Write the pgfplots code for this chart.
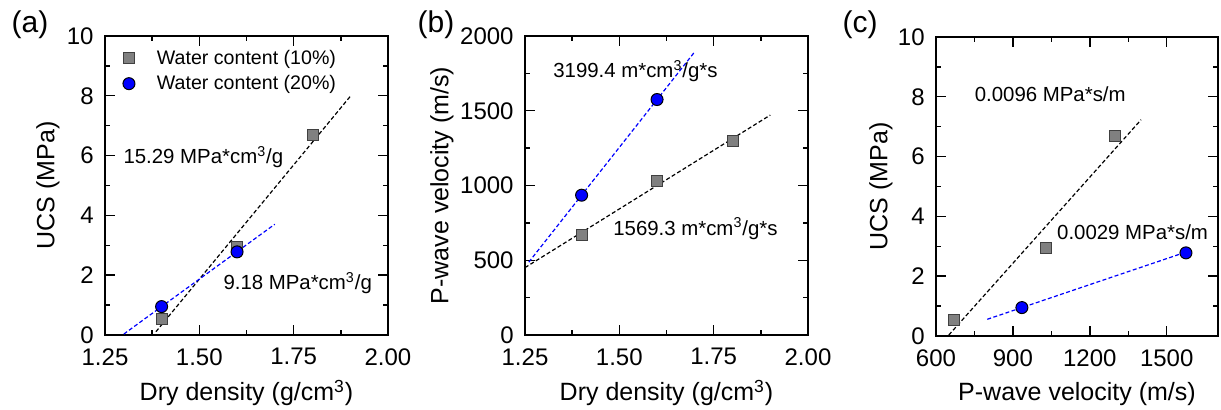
\documentclass[border=0pt]{standalone}
\usepackage{fontspec}
\setmainfont{Liberation Sans}
\usepackage{pgfplots}
\pgfplotsset{compat=1.18}
\definecolor{sqgray}{RGB}{128,128,128}
\definecolor{myblue}{RGB}{0,0,255}
\pgfplotsset{
  myaxis/.style={
    scale only axis, anchor=south west,
    width=141.5pt, height=149.5pt,
    /pgf/number format/assume math mode=true,
    tick align=inside, major tick length=5pt, minor tick length=2.5pt,
    every tick/.style={black, line width=0.7pt},
    axis line style={line width=1pt},
    tick label style={font=\fontsize{12}{14}\selectfont, inner sep=0.5pt},
    xticklabel style={yshift=-6pt},
    yticklabel style={xshift=-5pt},
    label style={font=\fontsize{12.5}{15}\selectfont},
    xlabel style={at={(axis description cs:0.5,-0.194)}, anchor=center},
    clip=false,
  },
  sq/.style={only marks, mark=square*, mark size=2.75pt, mark options={fill=sqgray, draw=black!75, line width=0.5pt}},
  ci/.style={only marks, mark=*, mark size=3pt, mark options={fill=myblue, draw=black, line width=0.5pt}},
  bfit/.style={black, dash pattern=on 2pt off 1.2pt, line width=0.6pt, forget plot},
  ufit/.style={myblue, dash pattern=on 2pt off 1.2pt, line width=0.6pt, forget plot},
}
\newcommand{\ann}{\fontsize{10.2}{12}\selectfont}
\begin{document}
\begin{tikzpicture}
\useasboundingbox (0,0) rectangle (610.5pt,205pt);
% ---------------- (a)
\begin{axis}[myaxis, at={(52.5pt,37.5pt)},
  xmin=1.25, xmax=2, ymin=0, ymax=10,
  xtick={1.25,1.5,1.75,2}, minor x tick num=1,
  ytick={0,2,4,6,8,10}, minor y tick num=1,
  xticklabel style={/pgf/number format/.cd, fixed, fixed zerofill, precision=2},
  xlabel={Dry density (g/cm\textsuperscript{3})},
  ylabel={UCS (MPa)},
  ylabel style={at={(axis description cs:-0.2014,0.5)}, anchor=center, rotate=0},
  legend style={draw=none, fill=none, at={(0.055,0.975)}, anchor=north west,
    font=\fontsize{9.8}{12}\selectfont, row sep=0pt, inner sep=1pt},
  legend cell align=left,
]
\addplot[bfit] coordinates {(1.385,0.11) (1.9,7.98)};
\addplot[ufit] coordinates {(1.3,0.032) (1.7,3.704)};
\addplot[sq] coordinates {(1.4,0.55) (1.6,2.95) (1.8,6.68)};
\addlegendentry{\hspace*{9pt}Water content (10\%)}
\addplot[ci] coordinates {(1.4,0.95) (1.6,2.78)};
\addlegendentry{\hspace*{9pt}Water content (20\%)}
\node[anchor=west, font=\ann, inner sep=0pt] at (axis cs:1.298,5.95) {15.29 MPa*cm\textsuperscript{3}/g};
\node[anchor=west, font=\ann, inner sep=0pt] at (axis cs:1.563,1.74) {9.18 MPa*cm\textsuperscript{3}/g};
\end{axis}
% ---------------- (b)
\begin{axis}[myaxis, at={(262.5pt,37.5pt)},
  xmin=1.25, xmax=2, ymin=0, ymax=2000,
  xtick={1.25,1.5,1.75,2}, minor x tick num=1,
  ytick={0,500,1000,1500,2000}, minor y tick num=1,
  xticklabel style={/pgf/number format/.cd, fixed, fixed zerofill, precision=2},
  yticklabel style={/pgf/number format/.cd, 1000 sep={}},
  scaled y ticks=false,
  xlabel={Dry density (g/cm\textsuperscript{3})},
  ylabel={P-wave velocity (m/s)},
  ylabel style={at={(axis description cs:-0.2933,0.5)}, anchor=center, rotate=0},
]
\addplot[bfit] coordinates {(1.25,450.7) (1.9,1470.8)};
\addplot[ufit] coordinates {(1.26,487.1) (1.7,1894.8)};
\addplot[sq] coordinates {(1.4,670) (1.6,1030) (1.8,1300)};
\addplot[ci] coordinates {(1.4,935) (1.6,1575)};
\node[anchor=west, font=\ann, inner sep=0pt] at (axis cs:1.324,1765) {3199.4 m*cm\textsuperscript{3}/g*s};
\node[anchor=west, font=\ann, inner sep=0pt] at (axis cs:1.483,711) {1569.3 m*cm\textsuperscript{3}/g*s};
\end{axis}
% ---------------- (c)
\begin{axis}[myaxis, at={(468pt,37pt)}, width=141pt,
  xmin=600, xmax=1700, ymin=0, ymax=10,
  xtick={600,900,1200,1500}, minor x tick num=1,
  ytick={0,2,4,6,8,10}, minor y tick num=1,
  xticklabel style={/pgf/number format/.cd, 1000 sep={}},
  scaled x ticks=false,
  xlabel={P-wave velocity (m/s)},
  ylabel={UCS (MPa)},
  ylabel style={at={(axis description cs:-0.195,0.5)}, anchor=center, rotate=0},
]
\addplot[bfit] coordinates {(650,0.033) (1400,7.233)};
\addplot[ufit] coordinates {(800,0.5585) (1600,2.8785)};
\addplot[sq] coordinates {(670,0.55) (1030,2.95) (1300,6.68)};
\addplot[ci] coordinates {(935,0.95) (1575,2.78)};
\node[anchor=west, font=\ann, inner sep=0pt] at (axis cs:750,8.09) {0.0096 MPa*s/m};
\node[anchor=west, font=\ann, inner sep=0pt] at (axis cs:1071,3.48) {0.0029 MPa*s/m};
\end{axis}
% panel labels
\node[font=\fontsize{15}{18}\selectfont] at (15pt,192.5pt) {(a)};
\node[font=\fontsize{15}{18}\selectfont] at (218pt,192.5pt) {(b)};
\node[font=\fontsize{15}{18}\selectfont] at (430pt,192.5pt) {(c)};
\end{tikzpicture}
\end{document}
